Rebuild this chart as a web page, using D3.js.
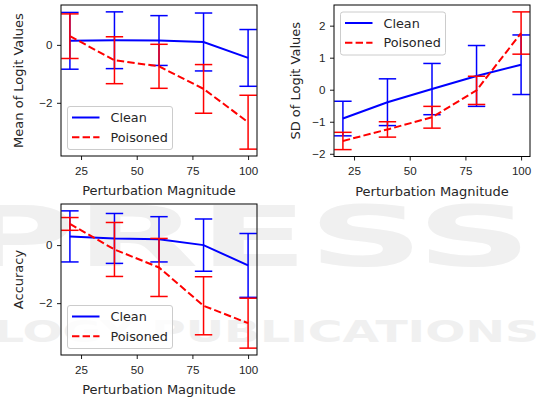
<!DOCTYPE html>
<html>
<head>
<meta charset="utf-8">
<script src="https://cdn.jsdelivr.net/npm/d3@7"></script>
<style>
  body { margin: 0; background: #fff; }
  svg { display: block; font-family: "DejaVu Sans", sans-serif; }
  .tick text { font-size: 11.6px; fill: #262626; }
  .tick line { stroke: #000; stroke-width: 0.9; }
  .label { font-size: 13px; fill: #262626; text-anchor: middle; }
  .legend-text { font-size: 12.8px; fill: #262626; }
</style>
</head>
<body>
<svg id="fig" width="537" height="398"></svg>
<script>
// perturbation magnitudes on the x axis
const magnitudes = [20, 40, 60, 80, 100];
const xTicks = [25, 50, 75, 100];

// mean of logit values
const meanClean = [0.14, 0.16, 0.15, 0.10, -0.45];
const meanCleanErr = [0.98, 0.98, 0.86, 1.00, 0.98];
const meanPoisoned = [0.30, -0.53, -0.74, -1.52, -2.67];
const meanPoisonedErr = [0.77, 0.81, 0.76, 0.84, 0.93];

// SD of logit values
const sdClean = [-0.90, -0.39, 0.02, 0.43, 0.78];
const sdCleanErr = [0.54, 0.73, 0.80, 0.95, 0.93];
const sdPoisoned = [-1.60, -1.24, -0.86, -0.02, 1.77];
const sdPoisonedErr = [0.27, 0.24, 0.34, 0.44, 0.66];

// accuracy
const accClean = [0.30, 0.23, 0.20, 0.00, -0.70];
const accCleanErr = [0.88, 0.86, 0.78, 0.90, 1.10];
const accPoisoned = [0.73, -0.15, -0.77, -2.09, -2.69];
const accPoisonedErr = [0.22, 0.93, 1.00, 1.00, 0.86];

const seriesNames = ["Clean", "Poisoned"];

const svg = d3.select("#fig");

// faint publisher watermark behind everything
const wm = svg.append("g").attr("fill", "#f0f0f0").attr("font-weight", "bold")
    .attr("font-family", "\"DejaVu Sans\", sans-serif");
wm.append("text").attr("x", -42).attr("y", 266)
    .attr("font-size", 84).attr("textLength", 574).attr("lengthAdjust", "spacingAndGlyphs")
    .text("PRESS");
wm.append("text").attr("x", -6).attr("y", 342)
    .attr("font-size", 31).attr("textLength", 545).attr("lengthAdjust", "spacingAndGlyphs")
    .text("LOGY PUBLICATIONS");

const errorbar_plot = (series,          // [{values, errs, color, dash}]
                       box,             // axes box in px
                       yLabel = "",
                       yTicks = [],
                       legendLoc = "lower left",
                       yLabelX = 18) =>
{
    const g = svg.append("g");

    // x scale with matplotlib style 5% margins
    const xPad = (d3.max(magnitudes) - d3.min(magnitudes)) * 0.05;
    const xScale = d3.scaleLinear()
        .domain([d3.min(magnitudes) - xPad, d3.max(magnitudes) + xPad])
        .range([box.left, box.left + box.width]);

    const lo = d3.min(series, s => d3.min(s.values, (v, i) => v - s.errs[i]));
    const hi = d3.max(series, s => d3.max(s.values, (v, i) => v + s.errs[i]));
    const yPad = (hi - lo) * 0.05;
    const yScale = d3.scaleLinear()
        .domain([lo - yPad, hi + yPad])
        .range([box.top + box.height, box.top]);

    const cap = 8.7;
    series.forEach(s => {
        const pts = magnitudes.map((m, i) => ({x: m, y: s.values[i], e: s.errs[i]}));
        // error bars
        const bars = g.append("g").attr("stroke", s.color).attr("stroke-width", 1.5);
        bars.selectAll(".vbar").data(pts).join("line")
            .attr("x1", d => xScale(d.x)).attr("x2", d => xScale(d.x))
            .attr("y1", d => yScale(d.y - d.e)).attr("y2", d => yScale(d.y + d.e));
        bars.selectAll(".capTop").data(pts).join("line")
            .attr("x1", d => xScale(d.x) - cap).attr("x2", d => xScale(d.x) + cap)
            .attr("y1", d => yScale(d.y + d.e)).attr("y2", d => yScale(d.y + d.e));
        bars.selectAll(".capBot").data(pts).join("line")
            .attr("x1", d => xScale(d.x) - cap).attr("x2", d => xScale(d.x) + cap)
            .attr("y1", d => yScale(d.y - d.e)).attr("y2", d => yScale(d.y - d.e));
        // mean line
        g.append("path").datum(pts)
            .attr("fill", "none").attr("stroke", s.color).attr("stroke-width", 2)
            .attr("stroke-dasharray", s.dash)
            .attr("d", d3.line().x(d => xScale(d.x)).y(d => yScale(d.y)));
    });

    // frame
    g.append("rect")
        .attr("x", box.left).attr("y", box.top)
        .attr("width", box.width).attr("height", box.height)
        .attr("fill", "none").attr("stroke", "#000").attr("stroke-width", 1);

    // axes
    g.append("g")
        .attr("transform", `translate(0,${box.top + box.height})`)
        .call(d3.axisBottom(xScale).tickValues(xTicks).tickSize(4).tickPadding(6.5))
        .call(a => a.select(".domain").remove())
        .call(a => a.selectAll("text").attr("font-family", null).attr("font-size", null));
    g.append("g")
        .attr("transform", `translate(${box.left},0)`)
        .call(d3.axisLeft(yScale).tickValues(yTicks).tickFormat(d3.format("d"))
            .tickSize(4).tickPadding(4.5))
        .call(a => a.select(".domain").remove())
        .call(a => a.selectAll("text").attr("font-family", null).attr("font-size", null));

    // labels
    g.append("text").attr("class", "label")
        .attr("x", box.left + box.width / 2).attr("y", box.top + box.height + 39)
        .text("Perturbation Magnitude");
    g.append("text").attr("class", "label")
        .attr("transform", `translate(${yLabelX},${box.top + box.height / 2}) rotate(270)`)
        .attr("dy", "0.35em")
        .text(yLabel);

    // legend
    const lw = 105, lh = 43;
    const lx = box.left + 6.5;
    const ly = legendLoc === "upper left" ? box.top + 7 : box.top + box.height - 6.5 - lh;
    const leg = g.append("g").attr("transform", `translate(${lx},${ly})`);
    leg.append("rect").attr("width", lw).attr("height", lh).attr("rx", 2.5)
        .attr("fill", "#fff").attr("fill-opacity", 0.8)
        .attr("stroke", "#cccccc").attr("stroke-width", 1);
    series.forEach((s, i) => {
        const yy = 11 + i * 19.7;
        leg.append("line").attr("x1", 4.5).attr("x2", 32).attr("y1", yy).attr("y2", yy)
            .attr("stroke", s.color).attr("stroke-width", 2).attr("stroke-dasharray", s.dash);
        leg.append("text").attr("class", "legend-text")
            .attr("x", 43).attr("y", yy).attr("dy", "0.36em").text(seriesNames[i]);
    });
};

const style = [{color: "#0000ff", dash: null}, {color: "#ff0000", dash: "7.4,3.2"}];

errorbar_plot([
    {values: meanClean, errs: meanCleanErr, ...style[0]},
    {values: meanPoisoned, errs: meanPoisonedErr, ...style[1]}
], {left: 61, top: 5, width: 196, height: 151}, "Mean of Logit Values", [-2, 0], "lower left", 18);

errorbar_plot([
    {values: sdClean, errs: sdCleanErr, ...style[0]},
    {values: sdPoisoned, errs: sdPoisonedErr, ...style[1]}
], {left: 334, top: 5, width: 196, height: 151.5}, "SD of Logit Values", [-2, -1, 0, 1, 2], "upper left", 295);

errorbar_plot([
    {values: accClean, errs: accCleanErr, ...style[0]},
    {values: accPoisoned, errs: accPoisonedErr, ...style[1]}
], {left: 61, top: 204, width: 196, height: 151}, "Accuracy", [-2, 0], "lower left", 18);
</script>
</body>
</html>
